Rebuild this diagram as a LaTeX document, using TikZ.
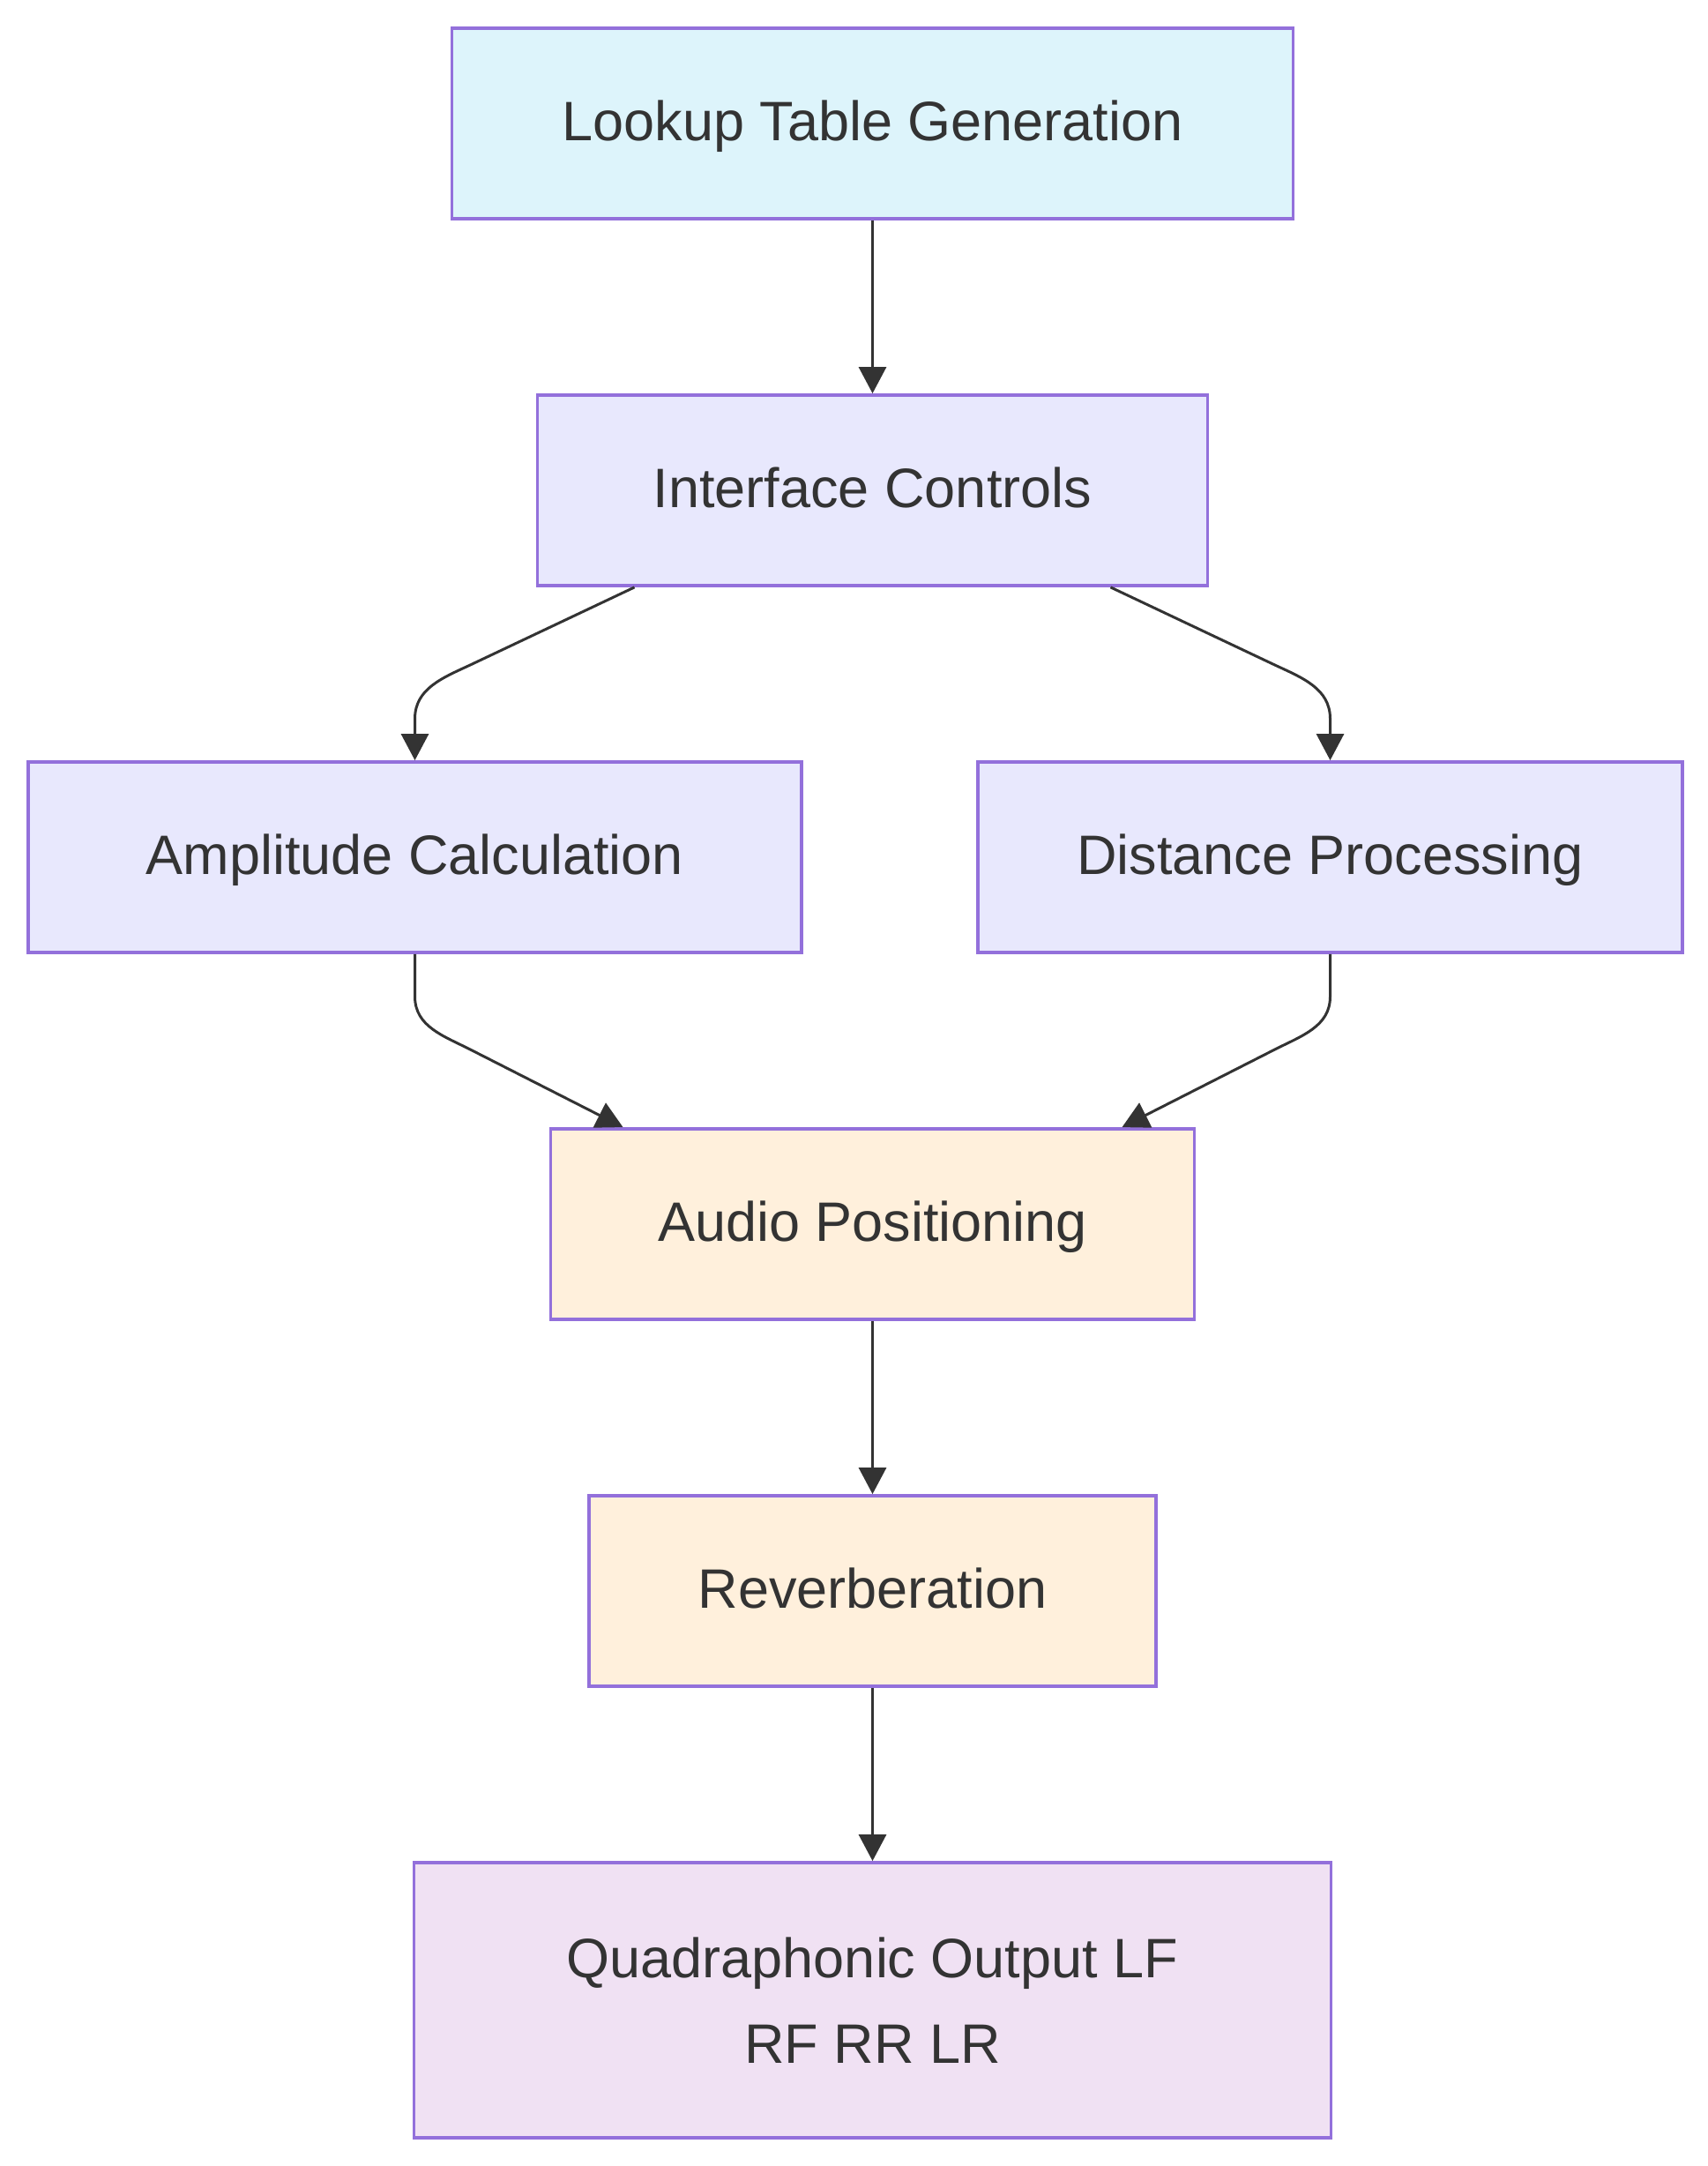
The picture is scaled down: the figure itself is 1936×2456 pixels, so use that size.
\documentclass[tikz,border=0pt]{standalone}
\usepackage{fontspec}
\setmainfont{Liberation Sans}
\usetikzlibrary{arrows.meta,calc}
\definecolor{boxline}{HTML}{9370DB}
\definecolor{linegray}{HTML}{333333}
\definecolor{textgray}{HTML}{333333}
\definecolor{cyanfill}{HTML}{DDF4FB}
\definecolor{bluefill}{HTML}{E8E8FD}
\definecolor{orangefill}{HTML}{FFF0DC}
\definecolor{lilacfill}{HTML}{F0E1F3}
\begin{document}
\begin{tikzpicture}[x=1pt, y=-1pt,
    box/.style={rectangle, draw=boxline, line width=3.8pt, inner sep=0pt, text=textgray,
        font=\fontsize{63}{97}\selectfont, minimum height=216pt},
    onebox/.style={box, text height=45pt, text depth=6pt},
    flow/.style={draw=linegray, line width=3pt, -{Triangle[length=30pt, width=31pt]}}]
            \useasboundingbox (0,0) rectangle (1936,2456);
            \node[onebox, fill=cyanfill, minimum width=954pt] (lt) at (989.5,140) {Lookup Table Generation};
            \node[onebox, fill=bluefill, minimum width=760pt] (ic) at (989.5,556) {Interface Controls};
            \node[onebox, fill=bluefill, minimum width=877pt] (ac) at (470.5,972) {Amplitude Calculation};
            \node[onebox, fill=bluefill, minimum width=799pt] (dp) at (1508.5,972) {Distance Processing};
            \node[onebox, fill=orangefill, minimum width=730pt] (ap) at (989.5,1388) {Audio Positioning};
            \node[onebox, fill=orangefill, minimum width=643pt] (rv) at (989.5,1804) {Reverberation};
            \node[box, fill=lilacfill, minimum width=1040pt, minimum height=312pt, align=center] (qo) at (989.5,2268) {Quadraphonic Output LF\\RF RR LR};
            \draw[flow] (lt.south) -- (ic.north);
            \draw[flow] ($(ic.south)+(-270,0)$) -- ++(-186,88) to[out=205, in=90] (ac.north |- 0,815) -- (ac.north);
            \draw[flow] ($(ic.south)+(270,0)$) -- ++(186,88) to[out=-25, in=90] (dp.north |- 0,815) -- (dp.north);
            \draw[flow] (ac.south) -- ++(0,48) to[out=-90, in=153] ($(ap.north)+(-456,-88)$) -- ($(ap.north)+(-283,0)$);
            \draw[flow] (dp.south) -- ++(0,48) to[out=-90, in=27] ($(ap.north)+(456,-88)$) -- ($(ap.north)+(283,0)$);
            \draw[flow] (ap.south) -- (rv.north);
            \draw[flow] (rv.south) -- (qo.north);

        \end{tikzpicture}
\end{document}
